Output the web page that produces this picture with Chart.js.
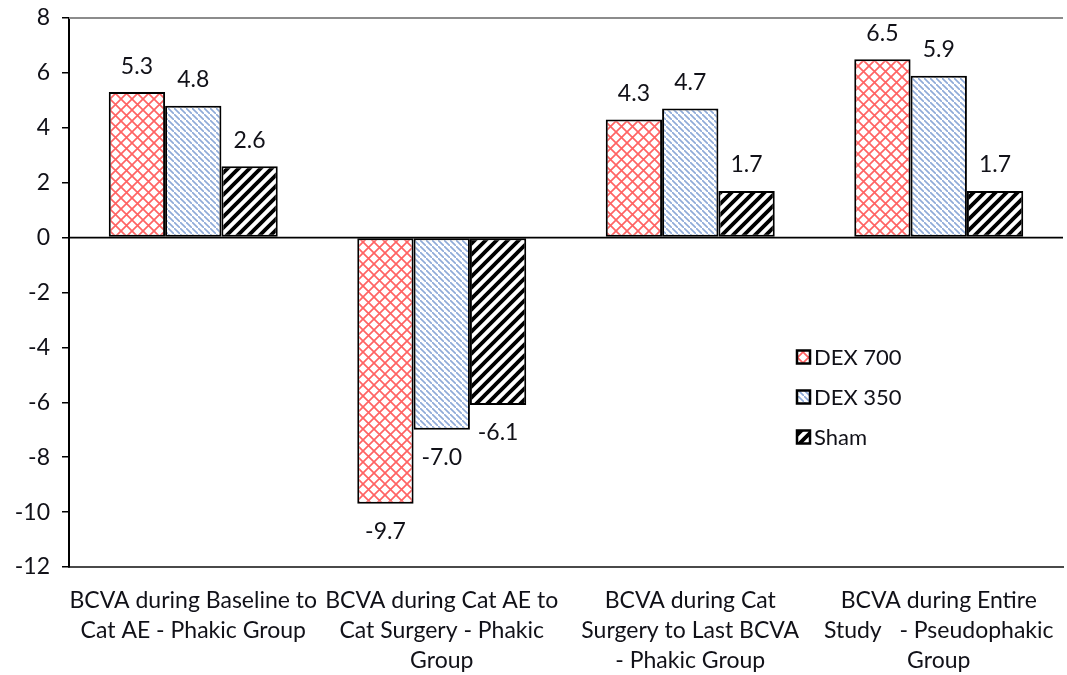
<!DOCTYPE html>
<html>
<head>
<meta charset="utf-8">
<script src="https://cdn.jsdelivr.net/npm/chart.js@4/dist/chart.umd.min.js"></script>
<style>
  html, body { margin: 0; padding: 0; background: #ffffff; }
  #wrap { width: 1067px; height: 675px; }
</style>
</head>
<body>
<div id="wrap"><canvas id="chart" width="1067" height="675"></canvas></div>
<script>
// Change in BCVA by study period and treatment arm
const categories = [
  ["BCVA during Baseline to", "Cat AE - Phakic Group"],
  ["BCVA during Cat AE to", "Cat Surgery - Phakic", "Group"],
  ["BCVA during Cat", "Surgery to Last BCVA", "- Phakic Group"],
  ["BCVA during Entire", "Study   - Pseudophakic", "Group"]
];
const seriesNames = ["DEX 700", "DEX 350", "Sham"];
const dex700 = [5.3, -9.7, 4.3, 6.5];
const dex350 = [4.8, -7.0, 4.7, 5.9];
const sham = [2.6, -6.1, 1.7, 1.7];
const yTicks = [-12, -10, -8, -6, -4, -2, 0, 2, 4, 6, 8];

const FONT = "Lato, 'Open Sans', sans-serif";
const FONT_SIZE = 23;
const TEXT = "#111118";

// Hatch fills
function makePattern(kind) {
  const c = document.createElement("canvas");
  const g = c.getContext("2d");
  let p;
  if (kind === "cross") {
    p = 11;
    c.width = p; c.height = p;
    g.fillStyle = "#ffffff"; g.fillRect(0, 0, p, p);
    g.strokeStyle = "#ff6464"; g.lineWidth = 1.7;
    g.beginPath();
    g.moveTo(-1, -1); g.lineTo(p + 1, p + 1);
    g.moveTo(-1, p + 1); g.lineTo(p + 1, -1);
    g.stroke();
  } else if (kind === "back") {
    p = 6;
    c.width = p; c.height = p;
    g.fillStyle = "#ffffff"; g.fillRect(0, 0, p, p);
    g.strokeStyle = "#8eaad8"; g.lineWidth = 1.6;
    g.beginPath();
    g.moveTo(-1, -1); g.lineTo(p + 1, p + 1);
    g.moveTo(-1, -p - 1); g.lineTo(1, 1 - p);
    g.moveTo(p - 1, p - 1); g.lineTo(p + 1, p + 1);
    g.stroke();
  } else {
    p = 11;
    c.width = p; c.height = p;
    g.fillStyle = "#ffffff"; g.fillRect(0, 0, p, p);
    g.strokeStyle = "#000000"; g.lineWidth = 3.8;
    g.beginPath();
    g.moveTo(-2, p + 2); g.lineTo(p + 2, -2);
    g.moveTo(-2, 2); g.lineTo(2, -2);
    g.moveTo(p - 2, p + 2); g.lineTo(p + 2, p - 2);
    g.stroke();
  }
  return g.createPattern(c, "repeat");
}
const fills = [makePattern("cross"), makePattern("back"), makePattern("fwd")];

// Reference lines: zero line and the upper frame line
const framePlugin = {
  id: "frame",
  beforeDatasetsDraw(chart) {
    const { ctx, chartArea, scales } = chart;
    const y0 = scales.y.getPixelForValue(0);
    ctx.save();
    ctx.strokeStyle = "#8c8c8c";
    ctx.lineWidth = 2;
    ctx.beginPath();
    ctx.moveTo(chartArea.left, chartArea.top);
    ctx.lineTo(chartArea.right, chartArea.top);
    ctx.stroke();
    ctx.strokeStyle = "#000000";
    ctx.lineWidth = 1.6;
    ctx.beginPath();
    ctx.moveTo(chartArea.left, y0);
    ctx.lineTo(chartArea.right, y0);
    ctx.stroke();
    ctx.restore();
  }
};

// Value labels above positive bars and below negative bars
const valueLabels = {
  id: "valueLabels",
  afterDatasetsDraw(chart) {
    const { ctx } = chart;
    ctx.save();
    ctx.font = FONT_SIZE + "px " + FONT;
    ctx.fillStyle = TEXT;
    ctx.textAlign = "center";
    ctx.textBaseline = "middle";
    chart.data.datasets.forEach((ds, i) => {
      const meta = chart.getDatasetMeta(i);
      meta.data.forEach((bar, j) => {
        const v = ds.data[j];
        const y = v >= 0 ? bar.y - 26 : bar.y + 28;
        ctx.fillText(v.toFixed(1), bar.x, y);
      });
    });
    ctx.restore();
  }
};

// Legend inside the plot area
const innerLegend = {
  id: "innerLegend",
  afterDraw(chart) {
    const { ctx } = chart;
    const x = 797, y0 = 357, gap = 40, box = 13;
    ctx.save();
    ctx.font = "22px " + FONT;
    ctx.textBaseline = "middle";
    ctx.textAlign = "left";
    chart.data.datasets.forEach((ds, i) => {
      const y = y0 + i * gap;
      ctx.fillStyle = ds.backgroundColor;
      ctx.fillRect(x, y - box / 2, box, box);
      ctx.strokeStyle = "#000000";
      ctx.lineWidth = 2.5;
      ctx.strokeRect(x, y - box / 2, box, box);
      ctx.fillStyle = TEXT;
      ctx.fillText(ds.label, x + box + 4, y + 1);
    });
    ctx.restore();
  }
};

const datasets = [dex700, dex350, sham].map((vals, i) => ({
  label: seriesNames[i],
  data: vals,
  backgroundColor: fills[i],
  borderColor: "#000000",
  borderWidth: 2,
  borderSkipped: false,
  categoryPercentage: 0.68,
  barPercentage: 1.0
}));

new Chart(document.getElementById("chart"), {
  type: "bar",
  data: { labels: categories, datasets },
  options: {
    responsive: false,
    animation: false,
    devicePixelRatio: 1,
    layout: { padding: { left: 0, right: 4, top: 18, bottom: 0 } },
    plugins: {
      legend: { display: false },
      tooltip: { enabled: false }
    },
    scales: {
      x: {
        grid: { display: false, drawTicks: false },
        border: { color: "#4a4a4a", width: 2 },
        ticks: {
          font: { family: FONT, size: FONT_SIZE, lineHeight: 1.3 },
          color: TEXT,
          padding: 19,
          maxRotation: 0,
          autoSkip: false
        },
        afterFit(scale) { scale.height = 108; scale.paddingLeft = 0; scale.paddingRight = 0; }
      },
      y: {
        min: -12,
        max: 8,
        afterBuildTicks(scale) { scale.ticks = yTicks.map(v => ({ value: v })); },
        grid: { drawOnChartArea: false, drawTicks: true, tickLength: 7, color: "#000000", lineWidth: 1.5 },
        border: { color: "#000000", width: 2 },
        ticks: {
          font: { family: FONT, size: FONT_SIZE },
          color: TEXT,
          padding: 12
        },
        afterFit(scale) { scale.width = 69; scale.paddingTop = 0; scale.paddingBottom = 0; }
      }
    }
  },
  plugins: [framePlugin, valueLabels, innerLegend]
});
</script>
</body>
</html>
